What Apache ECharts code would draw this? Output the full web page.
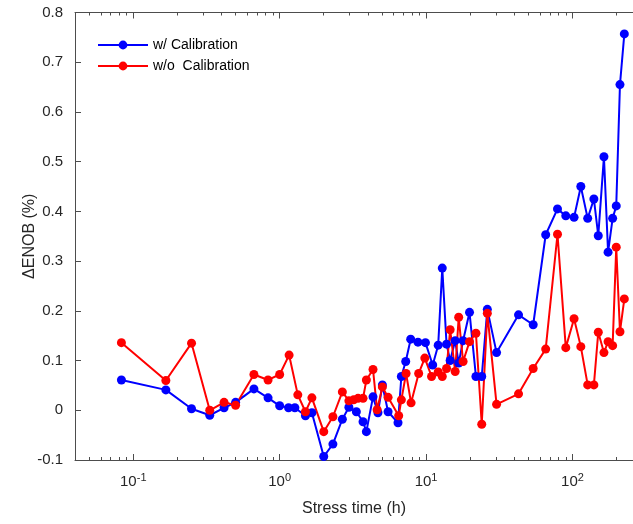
<!DOCTYPE html>
<html lang="en">
<head>
    <meta charset="UTF-8" />
    <title>ΔENOB vs stress time</title>
    <script src="https://cdn.jsdelivr.net/npm/echarts@6.0.0/dist/echarts.min.js"></script>
    <style>
        html, body { margin: 0; padding: 0; background: #fff; }
    </style>
</head>
<body>
<div id="main" style="width: 633px; height: 524px;"></div>
<script>
// w/ Calibration (blue)
let calTime = [0.083, 0.167, 0.25, 0.333, 0.417, 0.5, 0.667, 0.833, 1.0,
    1.15, 1.27, 1.5, 1.66, 2.0, 2.31, 2.68, 2.97, 3.34, 3.71,
    3.91, 4.34, 4.69, 5.03, 5.5, 6.43, 6.78, 7.26, 7.85, 8.8,
    9.9, 11.1, 12.1, 12.9, 13.8, 14.6, 15.8, 16.7, 17.9, 19.8,
    21.9, 24.0, 26.2, 30.3, 42.8, 53.9, 65.6, 79, 90, 102.5,
    114, 127, 140, 150, 164, 175, 188, 199, 211, 226];
let calValue = [0.061, 0.041, 0.003, -0.010, 0.005, 0.016, 0.043, 0.025, 0.009,
    0.005, 0.005, -0.011, -0.005, -0.093, -0.068, -0.018, 0.006, -0.003, -0.023,
    -0.043, 0.027, -0.005, 0.051, -0.003, -0.025, 0.068, 0.098, 0.143, 0.137,
    0.136, 0.091, 0.131, 0.286, 0.133, 0.10, 0.14, 0.095, 0.14, 0.197,
    0.068, 0.068, 0.203, 0.116, 0.192, 0.172, 0.353, 0.405, 0.391, 0.388,
    0.450, 0.386, 0.425, 0.351, 0.510, 0.318, 0.386, 0.411, 0.655, 0.757];

// w/o Calibration (red)
let noCalTime = [0.083, 0.167, 0.25, 0.333, 0.417, 0.5, 0.667, 0.833, 1.0,
    1.16, 1.33, 1.5, 1.66, 2.0, 2.31, 2.68, 2.97, 3.2, 3.43,
    3.71, 3.91, 4.34, 4.63, 5.03, 5.5, 6.5, 6.78, 7.3, 7.9,
    8.9, 9.8, 10.9, 12.1, 12.9, 13.8, 14.6, 15.8, 16.7, 17.9,
    19.8, 21.9, 24.0, 26.2, 30.3, 42.8, 53.9, 65.6, 79, 90,
    102.5, 114, 127, 140, 150, 164, 175, 188, 199, 211, 226];
let noCalValue = [0.136, 0.060, 0.135, 0.0, 0.016, 0.010, 0.072, 0.061, 0.072,
    0.111, 0.031, -0.003, 0.025, -0.043, -0.013, 0.037, 0.019, 0.021, 0.024,
    0.024, 0.061, 0.082, 0.001, 0.047, 0.026, -0.011, 0.021, 0.074, 0.015,
    0.074, 0.105, 0.068, 0.077, 0.068, 0.084, 0.162, 0.078, 0.187, 0.098,
    0.138, 0.155, -0.028, 0.195, 0.012, 0.033, 0.084, 0.123, 0.354, 0.126,
    0.184, 0.128, 0.051, 0.051, 0.157, 0.116, 0.138, 0.130, 0.328, 0.158, 0.224];

// tick marks on the log axis
let decadeTicks = [0.1, 1, 10, 100];
let minorTicks = [0.05, 0.06, 0.07, 0.08, 0.09,
    0.2, 0.3, 0.4, 0.5, 0.6, 0.7, 0.8, 0.9,
    2, 3, 4, 5, 6, 7, 8, 9,
    20, 30, 40, 50, 60, 70, 80, 90, 200];

let axisColor = '#4d4d4d';
let textColor = '#262626';
let font = 'Liberation Sans, Arial, sans-serif';

function pairs(xs, ys) {
    return xs.map(function (x, i) { return [x, ys[i]]; });
}

function logAxis(pos, major, withLabels) {
    return {
        type: 'log',
        logBase: 10,
        min: 0.04,
        max: 259,
        position: pos,
        axisLine: { show: major, onZero: false, lineStyle: { color: axisColor, width: 1 } },
        axisTick: {
            show: true,
            inside: true,
            length: major ? 6 : 3,
            customValues: major ? decadeTicks : minorTicks,
            lineStyle: { color: axisColor, width: 1 }
        },
        axisLabel: {
            show: withLabels,
            customValues: decadeTicks,
            margin: 12,
            color: textColor,
            fontFamily: font,
            formatter: function (v) {
                let e = Math.round(Math.log10(v));
                return '{b|10}{e|' + e + '}';
            },
            rich: {
                b: { fontSize: 15, fontFamily: font, color: textColor },
                e: { fontSize: 11, fontFamily: font, color: textColor, padding: [0, 0, 9, 0] }
            }
        },
        splitLine: { show: false },
        minorTick: { show: false },
        name: withLabels ? 'Stress time (h)' : '',
        nameLocation: 'middle',
        nameGap: 41,
        nameMoveOverlap: false,
        nameTextStyle: { fontSize: 16, color: textColor, fontFamily: font }
    };
}

let myChart = echarts.init(document.getElementById('main'));

myChart.setOption({
    animation: false,
    backgroundColor: '#ffffff',
    grid: { left: 75, right: 0, top: 12.5, bottom: 64 },
    legend: {
        orient: 'vertical',
        left: 92,
        top: 33,
        itemWidth: 50,
        itemHeight: 11,
        itemGap: 7,
        textStyle: { fontSize: 14, color: '#000', fontFamily: font },
        data: ['w/ Calibration', 'w/o  Calibration']
    },
    xAxis: [
        logAxis('bottom', true, true),
        logAxis('bottom', false, false),
        logAxis('top', true, false),
        logAxis('top', false, false)
    ],
    yAxis: {
        type: 'value',
        min: -0.1,
        max: 0.8,
        interval: 0.1,
        axisLine: { show: true, onZero: false, lineStyle: { color: axisColor, width: 1 } },
        axisTick: { show: true, inside: true, length: 6, lineStyle: { color: axisColor } },
        axisLabel: {
            fontSize: 15,
            color: textColor,
            fontFamily: font,
            margin: 12,
            formatter: function (v) { return String(Math.round(v * 10) / 10); }
        },
        splitLine: { show: false },
        name: 'ΔENOB (%)',
        nameLocation: 'middle',
        nameGap: 37,
        nameMoveOverlap: false,
        nameTextStyle: { fontSize: 16, color: textColor, fontFamily: font }
    },
    series: [
        {
            name: 'w/ Calibration',
            type: 'line',
            xAxisIndex: 0,
            data: pairs(calTime, calValue),
            symbol: 'circle',
            symbolSize: 9,
            color: '#0000ff',
            lineStyle: { width: 2, color: '#0000ff' },
            itemStyle: { color: '#0000ff' }
        },
        {
            name: 'w/o  Calibration',
            type: 'line',
            xAxisIndex: 0,
            data: pairs(noCalTime, noCalValue),
            symbol: 'circle',
            symbolSize: 9,
            color: '#ff0000',
            lineStyle: { width: 2, color: '#ff0000' },
            itemStyle: { color: '#ff0000' }
        }
    ]
});
</script>
</body>
</html>
